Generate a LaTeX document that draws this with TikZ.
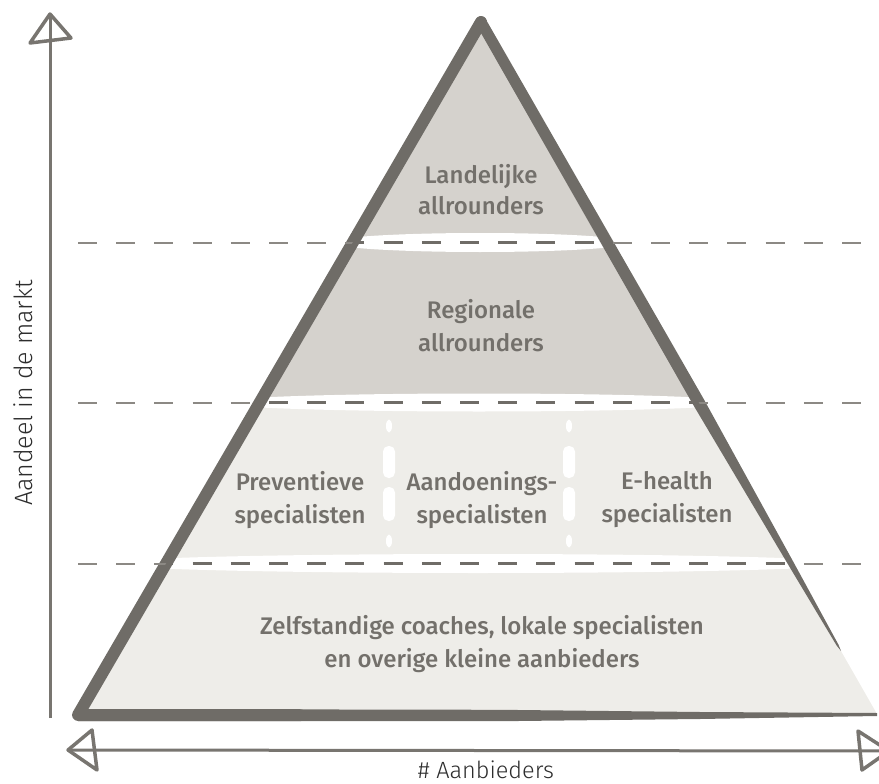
\documentclass[tikz,border=0pt]{standalone}
\usepackage{fontspec}
\setmainfont{Fira Sans}
\newfontfamily\medfont{Fira Sans Medium}
\newfontfamily\lightfont{Fira Sans Light}
\definecolor{edgec}{RGB}{111,108,103}
\definecolor{topfill}{RGB}{213,210,205}
\definecolor{lowfill}{RGB}{238,237,233}
\definecolor{lblc}{RGB}{115,112,107}
\definecolor{axisc}{RGB}{120,117,112}
\definecolor{dashout}{RGB}{140,137,132}
\definecolor{axtext}{RGB}{45,45,45}
\begin{document}
\begin{tikzpicture}[x=1pt,y=-1pt,
  bandlabel/.style={text=lblc, align=center, inner sep=0pt, font=\medfont\fontsize{24}{33}\selectfont},
  axislabel/.style={text=axtext, inner sep=0pt, font=\lightfont\fontsize{25}{30}\selectfont},
  sepline/.style={dashout, line width=2pt, dash pattern=on 19pt off 19.2pt},
  sepinner/.style={edgec, line width=3pt, dash pattern=on 19pt off 19.2pt},
  axisline/.style={axisc, line width=3pt},
  axishead/.style={axisc, line width=3.5pt, line join=round}]
\useasboundingbox (0,0) rectangle (879,784);
\clip (0,0) rectangle (879,784);
\coordinate (A) at (481,22);
\coordinate (L) at (78,715);
\coordinate (R) at (877,714);
% fills
\begin{scope}
  \clip (A) -- (L) -- (R) -- cycle;
  \fill[lowfill] (0,0) rectangle (879,784);
  \fill[topfill] (0,0) rectangle (879,402.5);
  \fill[white] (480,242.5) ellipse [x radius=150, y radius=9.5];
  \fill[white] (479,402.5) ellipse [x radius=262, y radius=9];
  \fill[white] (478,563.5) ellipse [x radius=372, y radius=9.5];
  \foreach \sx in {389,569}{
    \fill[white] (\sx,426) ellipse [x radius=3, y radius=6.5];
    \fill[white, rounded corners=5.5pt] (\sx-6,446) rectangle (\sx+6,478);
    \fill[white, rounded corners=5.5pt] (\sx-6,487) rectangle (\sx+6,521);
    \fill[white] (\sx,541) ellipse [x radius=3, y radius=6.5];
  }
\end{scope}
% outline strokes
\draw[edgec, line width=12pt, line join=round, line cap=round] (A) -- (L) -- (300,715.2);
\fill[edgec] (78,709) -- (500,709.8) -- (700,712) -- (877,713) -- (877,716) -- (700,719) -- (500,721.2) -- (78,721) -- cycle;
\fill[edgec] (485.8,19.3) -- (703.7,399) -- (791.5,558.5) -- (838.4,644.5) -- (841,651)
  -- (836.6,645.5) -- (786.3,561.5) -- (693.3,405) -- (476.2,24.7) -- cycle;
% dashed level lines
\foreach \ly in {242.5,402.5,563.5}{
  \draw[sepline] (78,\ly) -- (879,\ly);
}
\begin{scope}
  \clip (A) -- (L) -- (R) -- cycle;
  \foreach \ly in {242.5,402.5,563.5}{
    \draw[sepinner] (78,\ly) -- (879,\ly);
  }
\end{scope}
% axes
\coordinate (ytop) at (50,14);
\coordinate (ybot) at (50,718);
\draw[axisline] (ybot) -- (ytop);
\draw[axishead] (ytop) -- (71,38) -- (30,43) -- cycle;
\coordinate (xleft) at (68,750);
\coordinate (xright) at (889,751);
\draw[axisline] (xleft) -- (xright);
\draw[axishead] (xleft) -- (92,730) -- (97,770) -- cycle;
\draw[axishead] (xright) -- (858,731) -- (862,770) -- cycle;
% labels
\node[bandlabel] (landelijk) at (481,190) {Landelijke\\[-2pt]allrounders};
\node[bandlabel] (regionaal) at (481,326) {Regionale\\allrounders};
\node[bandlabel] (preventief) at (300,500) {Preventieve\\specialisten};
\node[bandlabel] (aandoening) at (482,500) {Aandoenings-\\specialisten};
\node[bandlabel] (ehealth) at (667,500) {E-health\\specialisten};
\node[bandlabel] (zelfstandig) at (482,644) {Zelfstandige coaches, lokale specialisten\\en overige kleine aanbieders};
\node[axislabel, rotate=90] (ylabel) at (23.5,393) {Aandeel in de markt};
\node[axislabel, font=\lightfont\fontsize{23.5}{28}\selectfont] (xlabel) at (486,770) {\# Aanbieders};
\end{tikzpicture}
\end{document}
